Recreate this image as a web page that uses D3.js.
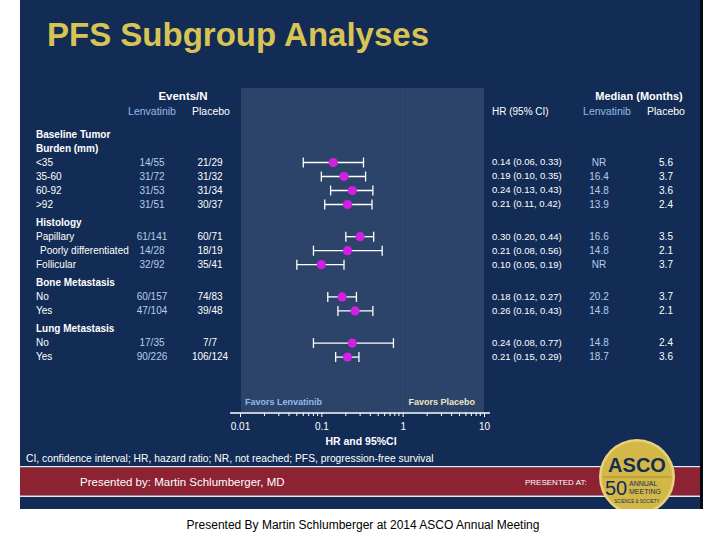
<!DOCTYPE html>
<html>
<head>
<meta charset="utf-8">
<script src="https://cdn.jsdelivr.net/npm/d3@7"></script>
<style>
  html, body { margin: 0; padding: 0; background: #ffffff; }
  svg { display: block; font-family: "Liberation Sans", Arial, sans-serif; }
</style>
</head>
<body>
<svg id="chart" width="720" height="540"></svg>
<script>
// ---------------- data ----------------
const title = "PFS Subgroup Analyses";
const groupHeaders = ["Baseline Tumor|Burden (mm)", "Histology", "Bone Metastasis", "Lung Metastasis"];
const subgroups = ["<35", "35-60", "60-92", ">92", "Papillary", "Poorly differentiated", "Follicular", "No", "Yes", "No", "Yes"];
const subgroupGroup = [0, 0, 0, 0, 1, 1, 1, 2, 2, 3, 3];
const eventsLenvatinib = ["14/55", "31/72", "31/53", "31/51", "61/141", "14/28", "32/92", "60/157", "47/104", "17/35", "90/226"];
const eventsPlacebo = ["21/29", "31/32", "31/34", "30/37", "60/71", "18/19", "35/41", "74/83", "39/48", "7/7", "106/124"];
const hr = [0.14, 0.19, 0.24, 0.21, 0.30, 0.21, 0.10, 0.18, 0.26, 0.24, 0.21];
const ciLower = [0.06, 0.10, 0.13, 0.11, 0.20, 0.08, 0.05, 0.12, 0.16, 0.08, 0.15];
const ciUpper = [0.33, 0.35, 0.43, 0.42, 0.44, 0.56, 0.19, 0.27, 0.43, 0.77, 0.29];
const medianLenvatinib = ["NR", "16.4", "14.8", "13.9", "16.6", "14.8", "NR", "20.2", "14.8", "14.8", "18.7"];
const medianPlacebo = ["5.6", "3.7", "3.6", "2.4", "3.5", "2.1", "3.7", "3.7", "2.1", "2.4", "3.6"];
const axisTicks = [0.01, 0.1, 1, 10];
const axisTickLabels = ["0.01", "0.1", "1", "10"];
const xDomain = [0.01, 10];
const footnote = "CI, confidence interval; HR, hazard ratio; NR, not reached; PFS, progression-free survival";
const presenter = "Presented by: Martin Schlumberger, MD";
const caption = "Presented By Martin Schlumberger at 2014 ASCO Annual Meeting";

// ---------------- colours ----------------
const NAVY = "#132c55";
const PANEL = "#2c4469";
const GOLD = "#d8c455";
const LIGHTBLUE = "#93bbe8";
const VALBLUE = "#b4cdea";
const MAGENTA = "#d21fe2";
const RED = "#8c2232";

const svg = d3.select("#chart");

// slide background
svg.append("rect").attr("x", 20).attr("y", 0).attr("width", 681).attr("height", 509).attr("fill", NAVY);
svg.append("rect").attr("x", 700).attr("y", 0).attr("width", 3).attr("height", 509).attr("fill", "#050a14");

// bottom red band
svg.append("rect").attr("x", 20).attr("y", 466).attr("width", 680).attr("height", 1.5).attr("fill", "#e8e8ee");
svg.append("rect").attr("x", 20).attr("y", 467.5).attr("width", 680).attr("height", 28).attr("fill", RED);
svg.append("rect").attr("x", 20).attr("y", 495.5).attr("width", 680).attr("height", 1.5).attr("fill", "#e8e8ee");

// title
svg.append("text").attr("x", 47).attr("y", 46).attr("fill", GOLD)
  .attr("font-size", 33).attr("font-weight", "bold").text(title);

// ---------------- scales ----------------
const x = d3.scaleLog().domain(xDomain).range([240, 484]);

// row layout: running slot counter
const rows = [];
let slot = 0;
groupHeaders.forEach((g, gi) => {
  if (gi > 0) slot += 0.3;
  const lines = g.split("|");
  lines.forEach((ln) => {
    rows.push({ type: "header", text: ln, slot: slot });
    slot += 1;
  });
  subgroups.forEach((s, i) => {
    if (subgroupGroup[i] === gi) {
      rows.push({ type: "sub", text: s, slot: slot, i: i });
      slot += 1;
    }
  });
});
const y = d3.scaleLinear().domain([0, 1]).range([134, 148]);

// plot panel
const panelTop = 88, axisY = 413;
svg.append("rect").attr("x", x(xDomain[0]) + 1).attr("y", panelTop)
  .attr("width", x(xDomain[1]) - x(xDomain[0]) - 1).attr("height", axisY - panelTop - 1)
  .attr("fill", PANEL);
svg.append("line").attr("x1", x(1)).attr("x2", x(1)).attr("y1", panelTop).attr("y2", axisY - 1)
  .attr("stroke", "#324b70").attr("stroke-width", 1);

// headers
const hdr = svg.append("g").attr("fill", "#ffffff");
hdr.append("text").attr("x", 183).attr("y", 96).attr("text-anchor", "middle")
  .attr("dy", "0.35em").attr("font-size", 11.5).attr("font-weight", "bold").text("Events/N");
hdr.append("text").attr("x", 152).attr("y", 111).attr("text-anchor", "middle")
  .attr("dy", "0.35em").attr("font-size", 10.5).attr("fill", LIGHTBLUE).text("Lenvatinib");
hdr.append("text").attr("x", 211).attr("y", 111).attr("text-anchor", "middle")
  .attr("dy", "0.35em").attr("font-size", 10.5).text("Placebo");
hdr.append("text").attr("x", 492).attr("y", 111)
  .attr("dy", "0.35em").attr("font-size", 10).text("HR (95% CI)");
hdr.append("text").attr("x", 639).attr("y", 96).attr("text-anchor", "middle")
  .attr("dy", "0.35em").attr("font-size", 11).attr("font-weight", "bold").text("Median (Months)");
hdr.append("text").attr("x", 607).attr("y", 111).attr("text-anchor", "middle")
  .attr("dy", "0.35em").attr("font-size", 10.5).attr("fill", LIGHTBLUE).text("Lenvatinib");
hdr.append("text").attr("x", 666).attr("y", 111).attr("text-anchor", "middle")
  .attr("dy", "0.35em").attr("font-size", 10.5).text("Placebo");

// table rows
const tbl = svg.append("g").attr("font-size", 10);
rows.forEach(r => {
  const yy = y(r.slot);
  if (r.type === "header") {
    tbl.append("text").attr("x", 36).attr("y", yy).attr("dy", "0.35em")
      .attr("fill", "#ffffff").attr("font-weight", "bold").text(r.text);
  } else {
    const i = r.i;
    tbl.append("text").attr("x", r.text.length > 12 ? 40 : 36).attr("y", yy).attr("dy", "0.35em")
      .attr("fill", "#ffffff").text(r.text);
    tbl.append("text").attr("x", 152).attr("y", yy).attr("dy", "0.35em").attr("text-anchor", "middle")
      .attr("fill", VALBLUE).text(eventsLenvatinib[i]);
    tbl.append("text").attr("x", 210).attr("y", yy).attr("dy", "0.35em").attr("text-anchor", "middle")
      .attr("fill", "#ffffff").text(eventsPlacebo[i]);
    tbl.append("text").attr("x", 492).attr("y", yy).attr("dy", "0.35em").attr("font-size", 9.5)
      .attr("fill", "#ffffff")
      .text(`${hr[i].toFixed(2)} (${ciLower[i].toFixed(2)}, ${ciUpper[i].toFixed(2)})`);
    tbl.append("text").attr("x", 599).attr("y", yy).attr("dy", "0.35em").attr("text-anchor", "middle")
      .attr("fill", VALBLUE).text(medianLenvatinib[i]);
    tbl.append("text").attr("x", 666).attr("y", yy).attr("dy", "0.35em").attr("text-anchor", "middle")
      .attr("fill", "#ffffff").text(medianPlacebo[i]);
  }
});

// forest marks
const subRows = rows.filter(r => r.type === "sub");
const marks = svg.append("g");
subRows.forEach(r => {
  const i = r.i, yy = y(r.slot) + 0.5;
  marks.append("line").attr("x1", x(ciLower[i])).attr("x2", x(ciUpper[i]))
    .attr("y1", yy).attr("y2", yy).attr("stroke", "#ffffff").attr("stroke-width", 1.3);
  [ciLower[i], ciUpper[i]].forEach(v => {
    marks.append("line").attr("x1", x(v)).attr("x2", x(v))
      .attr("y1", yy - 5).attr("y2", yy + 5).attr("stroke", "#ffffff").attr("stroke-width", 1.3);
  });
  marks.append("circle").attr("cx", x(hr[i])).attr("cy", yy).attr("r", 4.6).attr("fill", MAGENTA);
});

// favors labels
svg.append("text").attr("x", 245).attr("y", 405).attr("font-size", 9).attr("font-weight", "bold")
  .attr("fill", LIGHTBLUE).text("Favors Lenvatinib");
svg.append("text").attr("x", 475).attr("y", 405).attr("font-size", 9).attr("font-weight", "bold")
  .attr("text-anchor", "end").attr("fill", "#ece6c4").text("Favors Placebo");

// axis
const axis = d3.axisBottom(x).tickValues(axisTicks)
  .tickFormat((d, k) => axisTickLabels[k]).tickSize(4).tickPadding(6);
const ag = svg.append("g").attr("transform", `translate(0,${axisY})`).call(axis);
ag.select(".domain").remove();
ag.append("line").attr("x1", 230).attr("x2", 490).attr("stroke", "#ffffff").attr("stroke-width", 1.5);
ag.selectAll(".tick line").attr("stroke", "#ffffff");
ag.selectAll(".tick text").attr("fill", "#ffffff").attr("font-size", 10)
  .attr("font-family", "Liberation Sans, Arial, sans-serif");
const minor = [];
[0.01, 0.1, 1].forEach(b => { for (let m = 2; m <= 9; m++) minor.push(b * m); });
ag.selectAll(".minor").data(minor).enter().append("line").attr("class", "minor")
  .attr("x1", d => x(d)).attr("x2", d => x(d)).attr("y1", 0).attr("y2", 3)
  .attr("stroke", "#ffffff").attr("stroke-width", 1);
svg.append("text").attr("x", 361).attr("y", 441).attr("dy", "0.35em").attr("text-anchor", "middle")
  .attr("font-size", 10.5).attr("font-weight", "bold").attr("fill", "#ffffff").text("HR and 95%CI");

// footnote
svg.append("text").attr("x", 26).attr("y", 458).attr("dy", "0.35em").attr("font-size", 10.3)
  .attr("fill", "#ffffff").text(footnote);

// presenter
svg.append("text").attr("x", 80).attr("y", 482).attr("dy", "0.35em").attr("font-size", 11.5)
  .attr("fill", "#ffffff").text(presenter);
svg.append("text").attr("x", 525).attr("y", 482).attr("dy", "0.35em").attr("font-size", 8)
  .attr("fill", "#ffffff").text("PRESENTED AT:");

// ASCO logo
const logo = svg.append("g");
logo.append("defs").append("clipPath").attr("id", "slideClip")
  .append("rect").attr("x", 20).attr("y", 0).attr("width", 680).attr("height", 509);
const lg = logo.append("g").attr("clip-path", "url(#slideClip)");
lg.append("circle").attr("cx", 637).attr("cy", 477).attr("r", 38).attr("fill", "#e6d27a");
lg.append("circle").attr("cx", 637).attr("cy", 477).attr("r", 35.5).attr("fill", "#d4b847");
lg.append("text").attr("x", 637).attr("y", 465).attr("dy", "0.35em").attr("text-anchor", "middle")
  .attr("font-size", 20).attr("font-weight", "bold").attr("fill", NAVY).text("ASCO");
lg.append("line").attr("x1", 603).attr("x2", 671).attr("y1", 477).attr("y2", 477)
  .attr("stroke", "#a88f2c").attr("stroke-width", 1);
lg.append("text").attr("x", 605).attr("y", 495).attr("font-size", 20).attr("fill", NAVY).text("50");
lg.append("text").attr("x", 629).attr("y", 486).attr("font-size", 7).attr("fill", NAVY).text("ANNUAL");
lg.append("text").attr("x", 629).attr("y", 494).attr("font-size", 7).attr("fill", NAVY).text("MEETING");
lg.append("text").attr("x", 637).attr("y", 503).attr("text-anchor", "middle").attr("font-size", 4.5)
  .attr("fill", NAVY).text("SCIENCE & SOCIETY");

// caption below slide
svg.append("text").attr("x", 363).attr("y", 525).attr("dy", "0.35em").attr("text-anchor", "middle")
  .attr("font-size", 12).attr("fill", "#000000").text(caption);
</script>
</body>
</html>
